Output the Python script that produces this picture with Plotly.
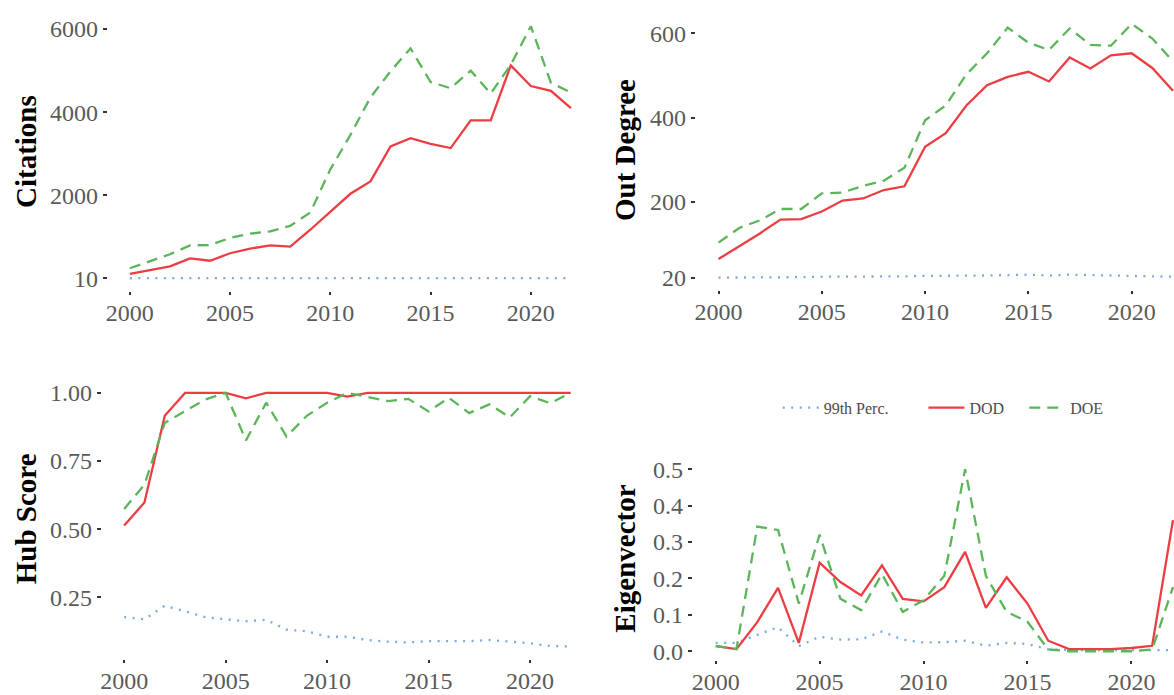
import plotly.graph_objects as go

years = list(range(2000, 2023))

# Citations
cit_p99 = [12, 12, 12, 12, 12, 13, 13, 13, 13, 14, 14, 14, 15, 15, 15, 15, 15, 15, 16, 16, 16, 16, 16]
cit_dod = [118, 212, 298, 486, 431, 612, 722, 800, 769, 1176, 1608, 2039, 2337, 3176, 3373, 3239, 3137,
           3804, 3804, 5122, 4627, 4510, 4094]
cit_doe = [251, 416, 588, 800, 808, 980, 1082, 1137, 1270, 1592, 2627, 3451, 4353, 4980, 5529, 4722, 4573,
           4996, 4447, 5137, 6063, 4706, 4471]

# Out Degree
out_p99 = [20, 20, 20, 21, 21, 22, 22, 22, 23, 23, 24, 24, 25, 25, 26, 27, 25, 27, 26, 25, 24, 23, 22]
out_dod = [64, 94, 125, 158, 159, 177, 203, 208, 228, 237, 331, 363, 429, 477, 497, 509, 486, 543, 517,
           548, 553, 518, 464]
out_doe = [103, 138, 156, 183, 183, 220, 222, 238, 250, 281, 394, 429, 503, 553, 614, 578, 561, 612, 573,
           571, 623, 588, 534]

# Hub Score
hub_p99 = [0.178, 0.170, 0.220, 0.198, 0.178, 0.170, 0.163, 0.168, 0.132, 0.126, 0.106, 0.106, 0.094,
           0.088, 0.085, 0.090, 0.090, 0.090, 0.094, 0.088, 0.082, 0.072, 0.070]
hub_dod = [0.514, 0.598, 0.916, 1.0, 1.0, 1.0, 0.980, 1.0, 1.0, 1.0, 1.0, 0.986, 1.0, 1.0, 1.0, 1.0, 1.0,
           1.0, 1.0, 1.0, 1.0, 1.0, 1.0]
hub_doe = [0.574, 0.664, 0.890, 0.934, 0.976, 1.0, 0.826, 0.964, 0.840, 0.916, 0.964, 1.0, 0.986, 0.970,
           0.978, 0.932, 0.982, 0.926, 0.958, 0.910, 0.988, 0.962, 1.0]

# Eigenvector
eig_p99 = [0.023, 0.023, 0.045, 0.066, 0.014, 0.040, 0.032, 0.033, 0.054, 0.032, 0.024, 0.025, 0.029,
           0.015, 0.023, 0.020, 0.005, 0.003, 0.003, 0.003, 0.003, 0.003, 0.003]
eig_dod = [0.014, 0.006, 0.080, 0.174, 0.023, 0.243, 0.190, 0.153, 0.236, 0.144, 0.137, 0.176, 0.273,
           0.119, 0.203, 0.131, 0.029, 0.006, 0.006, 0.006, 0.009, 0.015, 0.360]
eig_doe = [0.015, 0.006, 0.342, 0.333, 0.131, 0.320, 0.144, 0.113, 0.212, 0.108, 0.140, 0.207, 0.500,
           0.207, 0.108, 0.081, 0.005, 0.0, 0.0, 0.0, 0.0, 0.005, 0.176]

x_ticks = [2000, 2005, 2010, 2015, 2020]
cit_ticks = [10, 2000, 4000, 6000]
out_ticks = [20, 200, 400, 600]
hub_ticks = [0.25, 0.50, 0.75, 1.00]
hub_ticktext = ["0.25", "0.50", "0.75", "1.00"]
eig_ticks = [0.0, 0.1, 0.2, 0.3, 0.4, 0.5]
eig_ticktext = ["0.0", "0.1", "0.2", "0.3", "0.4", "0.5"]

series_names = ["99th Perc.", "DOD", "DOE"]
BLUE = "#7AAAE0"
RED = "#EC3D42"
GREEN = "#5BB55A"
styles = [dict(color=BLUE, width=2.3, dash="2px,6.5px"),
          dict(color=RED, width=2.3, dash="solid"),
          dict(color=GREEN, width=2.3, dash="11px,7px")]
legend_ids = ["legend", "legend2", "legend3"]

FONT = "Liberation Serif"
W, H = 1174, 695

panels = [
    ("x", "y", [cit_p99, cit_dod, cit_doe], "Citations"),
    ("x2", "y2", [out_p99, out_dod, out_doe], "Out Degree"),
    ("x3", "y3", [hub_p99, hub_dod, hub_doe], "Hub Score"),
    ("x4", "y4", [eig_p99, eig_dod, eig_doe], "Eigenvector"),
]

fig = go.Figure()
for pi, (xa, ya, data, title) in enumerate(panels):
    for si in range(3):
        fig.add_trace(go.Scatter(
            x=years, y=data[si], mode="lines", xaxis=xa, yaxis=ya,
            name=series_names[si], line=styles[si], legend=legend_ids[si],
            legendgroup=series_names[si], showlegend=(pi == 3),
        ))

def px_x(a, b):
    return [a / W, b / W]

def px_y(top, bottom):
    return [1 - bottom / H, 1 - top / H]

tickfont = dict(family=FONT, size=24, color="#5a5a5a")
common_x = dict(tickmode="array", tickvals=x_ticks, ticks="outside", ticklen=3, tickwidth=2,
                tickcolor="#333333", showgrid=False, zeroline=False, showline=False,
                tickfont=tickfont, ticklabelstandoff=-3)
common_y = dict(ticks="outside", ticklen=4, tickwidth=2, tickcolor="#333333",
                showgrid=False, zeroline=False, showline=False, tickfont=tickfont,
                tickmode="array")

leg_font = dict(family=FONT, size=16, color="#4a4a4a")
leg_common = dict(orientation="h", yanchor="middle", xanchor="left", y=1 - 410 / H,
                  font=leg_font, bgcolor="rgba(0,0,0,0)", itemwidth=36)

fig.update_layout(
    width=W, height=H,
    margin=dict(l=0, r=0, t=0, b=0),
    paper_bgcolor="white", plot_bgcolor="white",
    font=dict(family=FONT),
    xaxis=dict(domain=px_x(106, 592), range=[1998.9, 2023.1], anchor="y", **common_x),
    yaxis=dict(domain=px_y(8, 292), range=[-300, 6430], anchor="x",
               tickvals=cit_ticks, ticktext=[str(v) for v in cit_ticks], **common_y),
    xaxis2=dict(domain=px_x(695, 1174), range=[1998.9, 2022.05], anchor="y2", **common_x),
    yaxis2=dict(domain=px_y(7, 291), range=[-10, 656], anchor="x2",
                tickvals=out_ticks, ticktext=[str(v) for v in out_ticks], **common_y),
    xaxis3=dict(domain=px_x(100, 592), range=[1998.9, 2023.1], anchor="y3", **common_x),
    yaxis3=dict(domain=px_y(382, 665), range=[0.023, 1.047], anchor="x3",
                tickvals=hub_ticks, ticktext=hub_ticktext, **common_y),
    xaxis4=dict(domain=px_x(692, 1174), range=[1998.9, 2022.05], anchor="y4", **common_x),
    yaxis4=dict(domain=px_y(463, 666), range=[-0.025, 0.525], anchor="x4",
                tickvals=eig_ticks, ticktext=eig_ticktext, **common_y),
    legend=dict(x=777 / W, **leg_common),
    legend2=dict(x=923 / W, **leg_common),
    legend3=dict(x=1024 / W, **leg_common),
)

titles = [("Citations", 24, 150), ("Out Degree", 624, 149),
          ("Hub Score", 24, 522), ("Eigenvector", 624, 563)]
for text, cx, cy in titles:
    fig.add_annotation(text="<b>%s</b>" % text, x=cx / W, y=1 - cy / H, xref="paper", yref="paper",
                       textangle=-90, showarrow=False, xanchor="center", yanchor="middle",
                       font=dict(family=FONT, size=29, color="black"))

fig.write_html("out.html")
